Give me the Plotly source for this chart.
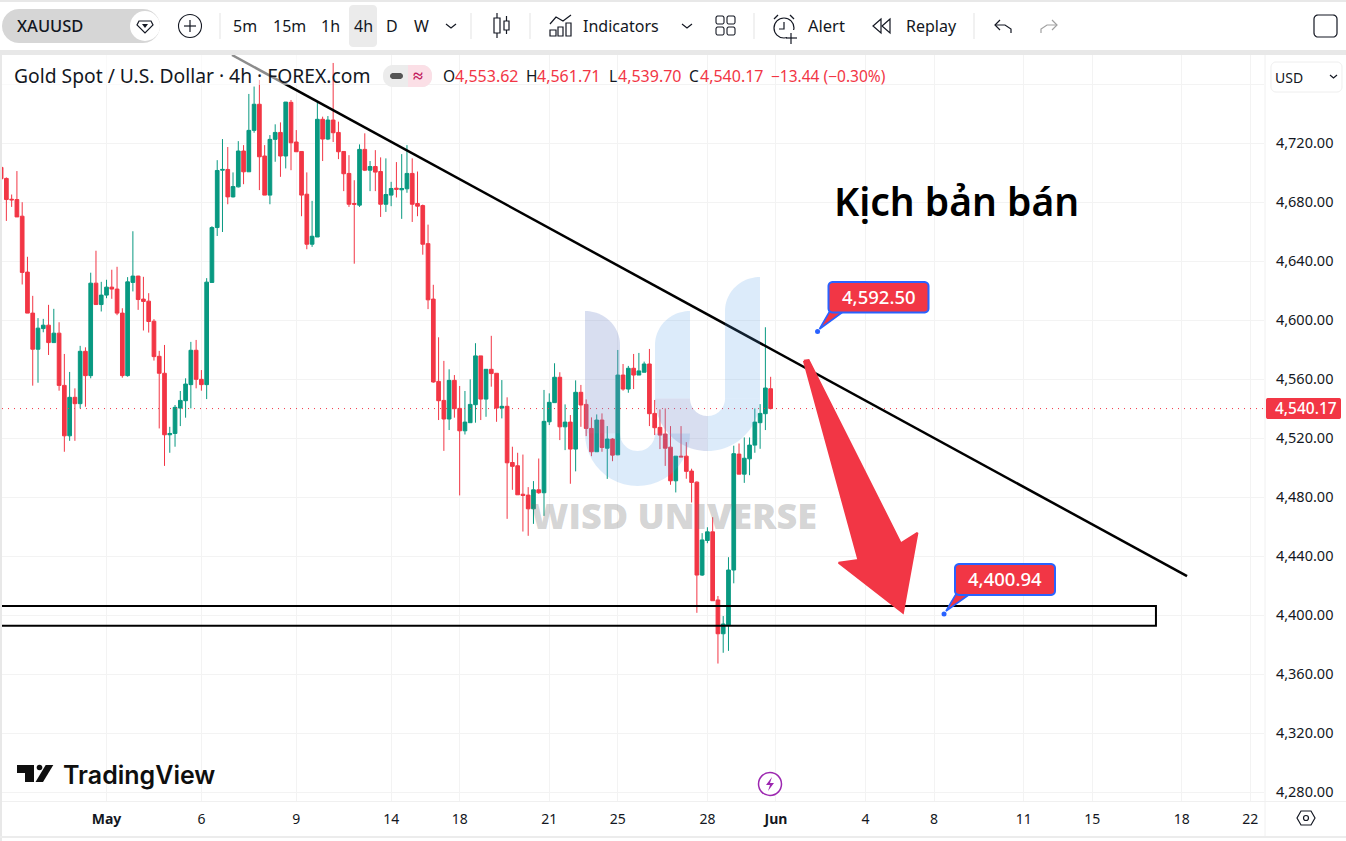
import math
import plotly.graph_objects as go

W, H = 1346, 841
FONT = "Noto Sans"
RED = "#F23645"
GREEN = "#089981"
INK = "#131722"
BLUE = "#2962FF"
GRID = "#f3f3f3"

# ---------- data ----------
directions = ("RRRRRRR" "GG" "RGRRGRGRGRGGRRRGG" "RRRRRR" "GGGGG" "RR" "GGGG" "RGGRGGRRGGRG" "RRRR" "GG" "RG"
              "RRRRR" "GRGRRGGRGG" "RRRRRRR" "GRRGGGRGRRG" "RRRRR" "GRGGGRGRGRRRGRGRGRGRGG" "RRRRR" "G" "RRRR"
              "GG" "RR" "GGG" "R" "GGGGG" "R")
highs = [4704.6,4696.9,4685.3,4701.2,4680.1,4643.1,4616.6,4601.5,4601.0,4610.5,4607.8,4598.7,4577.2,4565.0,4553.9,4582.7,4581.7,4632.3,4647.2,4626.1,
         4627.5,4634.3,4636.3,4608.2,4629.3,4660.4,4630.2,4629.5,4618.4,4600.8,4579.3,4583.3,4527.8,4542.6,4552.1,4560.7,4585.4,4586.7,4566.3,4628.6,
         4663.8,4708.6,4722.9,4717.5,4700.3,4721.5,4718.8,4753.5,4758.5,4763.0,4718.8,4725.6,4732.9,4734.2,4748.0,4749.4,4729.0,4714.5,4700.3,4681.0,
         4748.3,4738.1,4738.5,4774.5,4734.7,4714.8,4712.0,4695.0,4719.3,4726.8,4708.0,4715.4,4710.5,4709.8,4693.9,4707.3,4712.7,4718.8,4709.8,4700.9,
         4678.5,4664.9,4624.1,4588.5,4572.5,4566.8,4562.9,4555.5,4552.1,4560.0,4584.5,4575.9,4566.8,4589.5,4564.1,4559.5,4547.8,4514.3,4510.2,4509.0,
         4486.9,4491.0,4506.3,4552.8,4550.5,4570.9,4564.8,4543.0,4535.8,4559.3,4556.2,4546.4,4534.2,4536.2,4536.9,4528.3,4520.1,4579.9,4570.4,4569.1,
         4577.2,4577.9,4572.0,4580.6,4546.0,4539.6,4540.3,4528.3,4507.9,4528.3,4517.4,4499.4,4490.8,4455.7,4459.7,4466.5,4413.1,4399.5,4439.4,4515.0,
         4516.5,4520.6,4520.6,4540.3,4543.2,4595.3,4561.71]
body_tops = [4703.7,4696.2,4682.1,4681.9,4670.6,4632.7,4604.9,4594.7,4596.7,4596.7,4591.3,4591.3,4555.9,4547.8,4547.8,4579.0,4579.0,4625.2,4625.2,4617.1,
         4622.5,4622.5,4621.2,4604.9,4626.1,4630.0,4630.0,4614.4,4613.0,4599.4,4575.6,4564.1,4523.3,4541.0,4545.7,4556.8,4579.7,4579.7,4560.0,4625.9,
         4662.9,4701.6,4702.3,4702.3,4690.7,4714.8,4714.8,4728.8,4746.5,4746.5,4711.4,4722.7,4727.4,4727.4,4748.0,4747.8,4720.9,4714.5,4685.5,4657.0,
         4736.3,4736.3,4735.8,4735.8,4727.4,4714.5,4699.6,4679.2,4715.9,4715.9,4704.3,4704.3,4700.9,4685.3,4689.4,4689.6,4689.4,4699.6,4699.6,4679.2,
         4677.8,4652.0,4614.4,4558.6,4545.7,4559.3,4559.3,4540.3,4531.0,4543.0,4575.9,4575.9,4566.8,4566.8,4564.1,4541.7,4541.7,4503.6,4501.4,4482.1,
         4481.5,4485.1,4485.1,4531.5,4544.4,4561.4,4561.4,4531.0,4531.0,4551.2,4551.2,4543.0,4526.7,4532.4,4532.4,4519.5,4519.5,4562.9,4562.9,4567.5,
         4567.5,4565.7,4570.4,4570.4,4536.9,4527.4,4522.9,4514.0,4507.9,4507.9,4507.9,4497.8,4490.3,4451.1,4456.6,4456.6,4410.4,4394.1,4430.7,4509.6,
         4509.3,4506.5,4515.4,4531.0,4536.9,4554.1,4553.62]
body_bottoms = [4696.0,4681.9,4681.7,4670.1,4632.5,4604.9,4580.4,4580.4,4594.4,4584.9,4584.9,4555.9,4521.7,4521.7,4543.5,4543.5,4562.5,4562.5,4610.7,4610.7,
         4617.1,4621.2,4604.9,4562.5,4562.5,4625.7,4614.1,4612.8,4599.2,4575.4,4564.1,4522.4,4522.4,4523.3,4540.5,4545.5,4556.4,4560.0,4556.4,4556.4,
         4625.7,4662.9,4701.8,4683.7,4683.7,4690.5,4700.7,4700.7,4728.8,4710.9,4684.9,4684.9,4722.7,4711.4,4711.4,4720.4,4714.3,4684.9,4651.6,4651.6,
         4656.5,4722.9,4722.9,4727.2,4714.3,4699.4,4678.7,4678.7,4678.1,4701.8,4701.8,4700.5,4678.7,4678.7,4684.9,4688.9,4688.5,4689.2,4678.7,4677.4,
         4651.6,4613.9,4558.2,4545.5,4533.1,4533.1,4540.1,4525.1,4525.1,4530.6,4542.8,4546.6,4546.6,4563.9,4540.5,4540.5,4503.4,4501.0,4481.7,4481.3,
         4472.2,4472.2,4483.1,4483.1,4531.2,4544.2,4527.8,4527.8,4512.7,4512.7,4542.6,4526.7,4510.9,4510.9,4513.8,4513.3,4508.6,4508.8,4553.4,4553.4,
         4562.9,4562.9,4564.8,4536.7,4527.2,4522.2,4513.3,4491.2,4491.2,4507.4,4497.6,4490.1,4427.3,4427.3,4450.7,4409.9,4387.5,4387.5,4393.4,4430.7,
         4495.7,4495.7,4506.1,4515.4,4530.6,4536.7,4540.17]
lows = [4695.0,4667.4,4676.9,4670.1,4624.3,4604.9,4555.7,4557.7,4591.9,4576.5,4584.9,4552.3,4510.9,4518.3,4518.3,4540.3,4541.4,4560.7,4610.5,4606.0,
         4615.0,4614.6,4603.5,4561.1,4561.8,4619.6,4607.1,4593.1,4591.7,4572.7,4526.7,4501.3,4510.2,4514.3,4528.3,4534.0,4540.3,4553.9,4552.3,4546.6,
         4625.7,4657.2,4659.9,4678.7,4683.3,4690.1,4692.3,4700.7,4727.2,4688.3,4684.9,4678.7,4707.5,4697.3,4703.0,4701.8,4714.3,4670.6,4648.2,4649.8,
         4656.5,4708.0,4722.2,4720.9,4709.3,4687.6,4676.9,4638.4,4676.9,4701.2,4687.6,4687.6,4670.1,4673.5,4677.4,4683.3,4668.8,4686.5,4666.7,4670.6,
         4644.5,4607.6,4557.7,4532.4,4511.5,4525.6,4534.0,4481.3,4522.6,4530.6,4530.6,4532.4,4534.6,4555.0,4531.2,4533.5,4465.4,4485.1,4481.7,4456.8,
         4453.9,4462.0,4482.4,4467.4,4529.0,4544.2,4518.8,4512.0,4489.2,4497.6,4527.8,4521.5,4507.9,4510.9,4510.9,4492.5,4504.5,4508.6,4552.3,4550.9,
         4553.4,4562.9,4564.8,4528.3,4522.2,4512.7,4501.3,4488.5,4483.3,4507.4,4492.6,4476.5,4401.7,4426.7,4448.9,4409.9,4367.3,4374.6,4375.9,4421.7,
         4495.7,4489.8,4495.0,4510.2,4512.9,4525.6,4539.70]
opens = [b if d == "G" else t for d, t, b in zip(directions, body_tops, body_bottoms)]
closes = [t if d == "G" else b for d, t, b in zip(directions, body_tops, body_bottoms)]
bars = list(range(len(opens)))

date_ticks = [20, 38, 56, 74, 87, 104, 117, 134, 147, 164, 177, 194, 207, 224, 237]
date_labels = ["<b>May</b>", "6", "9", "14", "18", "21", "25", "28", "<b>Jun</b>", "4", "8", "11", "15", "18", "22"]
price_ticks = [4280, 4320, 4360, 4400, 4440, 4480, 4520, 4560, 4600, 4640, 4680, 4720, 4760]
price_labels = ["4,280.00", "4,320.00", "4,360.00", "4,400.00", "4,440.00", "4,480.00", "4,520.00", "4,560.00",
                "4,600.00", "4,640.00", "4,680.00", "4,720.00", ""]
x_range = [0.17, 239.6]
y_range = [4274.1, 4779.9]

last_close = 4540.17
trend_x = [43.8, 225.0]
trend_y = [4779.9, 4426.6]
zone_x = [-5, 219.1, 219.1, -5]
zone_y = [4406.3, 4406.3, 4392.9, 4392.9]
arrow_x = [152.3, 153.2, 170.7, 173.85, 171.1, 158.9, 162.65, 152.3]
arrow_y = [4572.6, 4573.0, 4448.8, 4456.0, 4401.7, 4435.6, 4437.5, 4572.6]
target_x = [154.9, 178.9]
target_y = [4592.50, 4400.94]

# ---------- pixel helpers for the interface chrome ----------
def px(x):
    return x / W

def py(y):
    return 1 - y / H

shapes, notes = [], []

def path_of(points, close=True):
    d = "M" + " L".join(f"{px(x):.6f},{py(y):.6f}" for x, y in points)
    return d + (" Z" if close else "")

def poly(points, fill=None, line=None, lw=1.0, close=True, layer="above"):
    shapes.append(dict(type="path", xref="paper", yref="paper", path=path_of(points, close), layer=layer,
                       fillcolor=fill if fill else "rgba(0,0,0,0)",
                       line=dict(color=line if line else "rgba(0,0,0,0)", width=lw if line else 0)))

def rrect(x0, y0, x1, y1, r=0, fill=None, line=None, lw=1.0):
    pts = []
    if r <= 0:
        pts = [(x0, y0), (x1, y0), (x1, y1), (x0, y1)]
    else:
        for cx, cy, a0 in ((x1 - r, y0 + r, -90), (x1 - r, y1 - r, 0), (x0 + r, y1 - r, 90), (x0 + r, y0 + r, 180)):
            for k in range(7):
                a = math.radians(a0 + 15 * k)
                pts.append((cx + r * math.cos(a), cy + r * math.sin(a)))
    poly(pts, fill, line, lw)

def circ(cx, cy, r, fill=None, line=None, lw=1.0):
    shapes.append(dict(type="circle", xref="paper", yref="paper", x0=px(cx - r), x1=px(cx + r), y0=py(cy + r), y1=py(cy - r),
                       fillcolor=fill if fill else "rgba(0,0,0,0)",
                       line=dict(color=line if line else "rgba(0,0,0,0)", width=lw if line else 0)))

def stroke(points, color=INK, lw=1.2):
    poly(points, None, color, lw, close=False)

def text(s, x, y, size=16, color=INK, anchor="left", weight=400, family=FONT):
    notes.append(dict(text=s, xref="paper", yref="paper", x=px(x), y=py(y), xanchor=anchor, yanchor="middle", showarrow=False,
                      font=dict(family=family, size=size, color=color, weight=weight), borderpad=0))

# ---------- chrome ----------
rrect(0, 0, W, 2, fill="#e8e8e8")
rrect(0, 50, W, 55, fill="#e8e8e8")
rrect(0, 55, 2, 841, fill="#e8e8e8")
rrect(0, 836, W, 838, fill="#ececec")
stroke([(1265, 55), (1265, 836)], "#f0f0f0", 1)
stroke([(2, 801.5), (1346, 801.5)], "#f0f0f0", 1)

# legend backdrop fading what runs behind the title
rrect(2, 55, 322, 85, fill="rgba(255,255,255,0.55)")

# symbol pill
rrect(2, 9, 160, 43, r=17, fill="#d6d6d6")
circ(145, 26, 15, fill="#ffffff")
poly([(139, 21), (151, 21), (153, 25), (145, 33), (137, 25)], None, INK, 1.2)
poly([(142, 24), (148, 24), (145, 28)], INK)
text("XAUUSD", 16, 26, 16.5, INK, weight=500)
circ(190, 26, 11.5, line=INK, lw=1.1)
stroke([(190, 20), (190, 32)]); stroke([(184, 26), (196, 26)])
for sx in (220, 471, 530, 754, 974):
    stroke([(sx, 13), (sx, 39)], "#e3e3e3", 1)
rrect(349, 5, 377, 47, r=4, fill="#ebebeb")
for s, x in (("5m", 245), ("15m", 289), ("1h", 330), ("4h", 363), ("D", 392), ("W", 421)):
    text(s, x, 26, 16, INK, "center")
stroke([(446, 24), (451, 28), (456, 24)])
# candle icon
rrect(494, 18, 500, 33, line=INK, lw=1.2); stroke([(497, 13), (497, 18)]); stroke([(497, 33), (497, 38)])
rrect(504, 21, 509, 30, line=INK, lw=1.2); stroke([(506.5, 16), (506.5, 21)]); stroke([(506.5, 30), (506.5, 34)])
# indicators icon
stroke([(550, 24), (556, 17), (563, 21), (571, 15)])
for a, b, c in ((550, 556, 30), (558, 563, 27), (566, 571, 23)):
    rrect(a, c, b, 36, line=INK, lw=1.2)
text("Indicators", 582, 26, 16, INK)
stroke([(682, 24), (687, 28), (692, 24)])
for a in (716, 727):
    for b in (16, 27):
        rrect(a, b, a + 8, b + 8, r=2, line=INK, lw=1.1)
# alert icon
circ(784, 28, 10, line=INK, lw=1.2)
stroke([(784, 22), (784, 29), (779, 29)])
stroke([(774, 19), (778, 15)]); stroke([(794, 19), (790, 15)])
rrect(787, 30, 799, 40, fill="#ffffff")
stroke([(791, 33), (791, 44)]); stroke([(786, 38), (797, 38)])
text("Alert", 806.5, 26, 16.5, INK)
poly([(881, 19), (873, 26), (881, 33)], None, INK, 1.2)
poly([(890, 19), (882, 26), (890, 33)], None, INK, 1.2)
text("Replay", 904.5, 26, 16, INK)
stroke([(1000, 20), (995, 25), (1000, 30)]); stroke([(995, 25), (1005, 25), (1011, 29), (1011, 33)])
stroke([(1052, 20), (1057, 25), (1052, 30)], "#a0a0a0"); stroke([(1057, 25), (1047, 25), (1041, 29), (1041, 33)], "#a0a0a0")
rrect(1314, 15, 1337, 37, r=4, line=INK, lw=1.2)

# watermark logo
LAV = "rgba(125,145,205,0.30)"
SKY = "rgba(80,155,230,0.20)"
def arc(cx, cy, rx, ry, a0, a1, n=24):
    return [(cx + rx * math.cos(math.radians(a0 + (a1 - a0) * k / n)),
             cy + ry * math.sin(math.radians(a0 + (a1 - a0) * k / n))) for k in range(n + 1)]
poly(arc(585, 345, 35, 34, -90, 0) + [(620, 433.5), (585, 433.5)], LAV)
poly(arc(637.5, 433.5, 52.5, 52.5, 180, 0) + arc(637.5, 433.5, 17.5, 17.5, 0, 180), SKY)
poly(arc(690, 345, 35, 34, -90, -180) + [(655, 398.5), (690, 398.5)], SKY)
poly(arc(707.5, 398.5, 52.5, 52.5, 180, 90) + arc(707.5, 398.5, 17.5, 17.5, 90, 180), LAV)
poly(arc(707.5, 398.5, 52.5, 52.5, 90, 0) + arc(707.5, 398.5, 17.5, 17.5, 0, 90), SKY)
poly(arc(760, 311, 35, 34, -90, -180) + [(725, 398.5), (760, 398.5)], SKY)
text("WISD UNIVERSE", 674, 515, 36, "rgba(110,110,110,0.30)", "center", 800, "Open Sans")

# callouts
for (dx, dy, x0, y0, x1, y1, label, tx) in ((817.5, 331, 828.5, 282, 928.5, 312.5, "4,592.50", 878.5),
                                            (944, 613, 955, 564, 1055, 595, "4,400.94", 1005)):
    poly([(dx + 2, dy - 2), (x0 + 1, y1 - 1), (x0 + 15, y1 - 1)], RED, BLUE, 1.6)
    rrect(x0, y0, x1, y1, r=4, fill=RED, line=BLUE, lw=2)
    text(label, tx, (y0 + y1) / 2 - 1, 18.5, "#ffffff", "center", 500)

# price tag
rrect(1266, 398, 1341, 419, r=2, fill=RED)
text("4,540.17", 1306, 408, 15.5, "#ffffff", "center", 500)

# legend title row
text("Gold Spot / U.S. Dollar · 4h · FOREX.com", 13, 76, 19.3, INK)
rrect(383, 65, 432, 87, r=10, fill="#ececec")
rrect(408, 65, 432, 87, r=10, fill="#fbdfe6")
rrect(408, 65, 420, 87, fill="#fbdfe6")
rrect(390, 73, 403, 79, r=3, fill="#555555")
text("≈", 418, 75, 18, "#c2185b", "center", 700)
for s, x, c, z in (("O", 442, INK, 15.5), ("4,553.62", 454, RED, 16), ("H", 525, INK, 15.5), ("4,561.71", 536, RED, 16),
                   ("L", 608, INK, 15.5), ("4,539.70", 617, RED, 16), ("C", 688, INK, 15.5), ("4,540.17", 699, RED, 16),
                   ("−13.44 (−0.30%)", 770, RED, 15.5)):
    text(s, x, 76, z, c)
rrect(1271, 62, 1342, 92, r=5, fill="#ffffff", line="#eeeeee", lw=1)
text("USD", 1274, 77, 14, INK)
stroke([(1330, 75), (1333.5, 78), (1337, 75)])

# headline
text("Kịch bản bán", 956, 201, 39, "#000000", "center", 600)

# TradingView mark
poly([(17, 765), (34, 765), (34, 782), (25, 782), (25, 773), (17, 773)], "#0f0f0f")
circ(39.5, 767.5, 2.8, fill="#0f0f0f")
poly([(45.7, 765), (53.3, 765), (43, 782), (35.5, 782)], "#0f0f0f")
text("TradingView", 62, 775, 25, "#0f0f0f", weight=600, family="Inter")

# lightning badge
PUR = "#9C27B0"
circ(770, 784, 11.5, fill="#ffffff", line=PUR, lw=1.5)
poly([(772, 777), (766, 785), (770, 785), (768, 791), (774, 783), (770, 783)], PUR)

# settings
poly([(1301, 811), (1311, 811), (1315, 818), (1311, 825), (1301, 825), (1297, 818)], None, INK, 1.2)
circ(1306, 818, 2.5, line=INK, lw=1.2)

# ---------- figure ----------
fig = go.Figure()
fig.add_trace(go.Scatter(x=x_range, y=[last_close, last_close], mode="lines",
                         line=dict(color=RED, width=1, dash="1px,5px")))
fig.add_trace(go.Candlestick(x=bars, open=opens, high=highs, low=lows, close=closes, whiskerwidth=0,
                             increasing=dict(line=dict(color=GREEN, width=1), fillcolor=GREEN),
                             decreasing=dict(line=dict(color=RED, width=1), fillcolor=RED)))
fig.add_trace(go.Scatter(x=trend_x, y=trend_y, mode="lines", line=dict(color="#000000", width=2.5)))
fig.add_trace(go.Scatter(x=zone_x, y=zone_y, mode="lines", line=dict(color="#000000", width=2)))
fig.add_trace(go.Scatter(x=arrow_x, y=arrow_y, mode="lines", fill="toself", fillcolor=RED, line=dict(color=RED, width=2)))
fig.add_trace(go.Scatter(x=target_x, y=target_y, mode="markers", marker=dict(color=BLUE, size=5)))

fig.update_layout(
    width=W, height=H, autosize=False, margin=dict(l=0, r=0, t=0, b=0), showlegend=False, hovermode=False,
    paper_bgcolor="#ffffff", plot_bgcolor="#ffffff", font=dict(family=FONT, color=INK), boxgap=0.0,
    shapes=shapes, annotations=notes,
    xaxis=dict(domain=[2 / W, 1264 / W], range=x_range, rangeslider=dict(visible=False), tickmode="array",
               tickvals=date_ticks, ticktext=date_labels, showgrid=True, gridcolor=GRID, gridwidth=1, zeroline=False,
               ticks="outside", ticklen=5, tickcolor="rgba(0,0,0,0)", tickfont=dict(size=14, color=INK), tickangle=0,
               showline=False, fixedrange=True, automargin=False),
    yaxis=dict(domain=[1 - 801 / H, 1 - 55 / H], range=y_range, side="right", tickmode="array", tickvals=price_ticks,
               ticktext=price_labels, showgrid=True, gridcolor=GRID, gridwidth=1, zeroline=False, ticks="outside",
               ticklen=8, tickcolor="rgba(0,0,0,0)", tickfont=dict(size=14.5, color=INK), showline=False,
               fixedrange=True, automargin=False),
)
fig.write_html("out.html", config={"displayModeBar": False},
               post_script="document.body.style.margin='0';document.body.style.overflow='hidden';")
